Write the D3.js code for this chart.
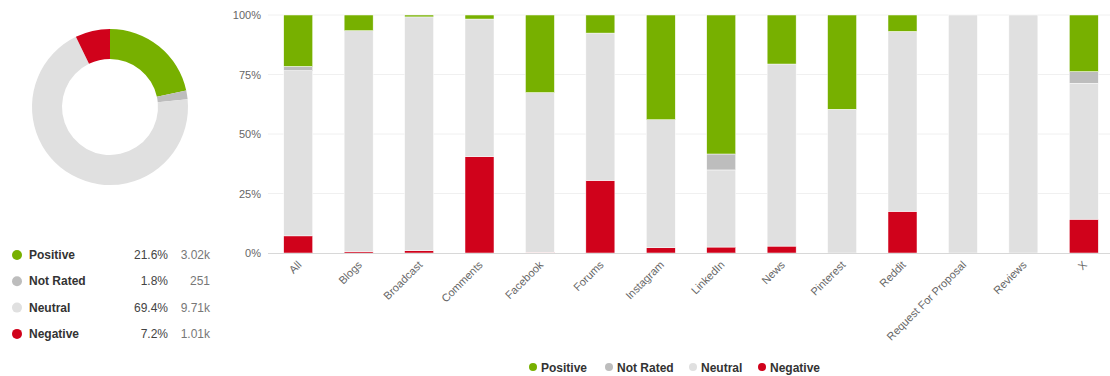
<!DOCTYPE html>
<html>
<head>
<meta charset="utf-8">
<script src="https://cdn.jsdelivr.net/npm/d3@7"></script>
<style>
  body { margin: 0; background: #fff; }
  svg { font-family: "Liberation Sans", Arial, sans-serif; display: block; }
  .tick text { fill: #666; font-size: 11px; }
</style>
</head>
<body>
<svg id="chart" width="1110" height="376"></svg>
<script>
(function () {
    // summary (donut + table)
    var sentiments = ["Positive", "Not Rated", "Neutral", "Negative"];
    var totalPct = [21.6, 1.8, 69.4, 7.2];
    var totalCount = ["3.02k", "251", "9.71k", "1.01k"];
    var colors = ["#77b000", "#bdbdbd", "#e0e0e0", "#d0021b"];

    // per source breakdown (percent of each bar)
    var sources = ["All", "Blogs", "Broadcast", "Comments", "Facebook", "Forums", "Instagram",
        "LinkedIn", "News", "Pinterest", "Reddit", "Request For Proposal", "Reviews", "X"];
    var positive = [21.6, 6.6, 0.8, 1.7, 32.6, 7.6, 44.0, 58.4, 20.6, 39.6, 6.9, 0, 0, 23.8];
    var notRated = [1.8, 0, 0, 0, 0, 0, 0, 6.7, 0, 0, 0, 0, 0, 4.9];
    var neutral = [69.4, 92.8, 98.2, 57.8, 67.1, 61.9, 53.8, 32.4, 76.5, 60.4, 75.6, 100, 100, 57.1];
    var negative = [7.2, 0.6, 1.0, 40.5, 0.3, 30.5, 2.2, 2.5, 2.9, 0, 17.5, 0, 0, 14.2];
    var yTicks = [0, 25, 50, 75, 100];

    var svg = d3.select("#chart");

    // ---- donut
    var pie = d3.pie().sort(null).value(d => d)(totalPct);
    var arc = d3.arc().innerRadius(48).outerRadius(78);
    svg.append("g")
        .attr("transform", "translate(110,107)")
        .selectAll("path")
        .data(pie)
        .join("path")
        .attr("d", arc)
        .attr("fill", (d, i) => colors[i]);

    // ---- table legend
    var rows = svg.append("g").selectAll("g")
        .data(sentiments)
        .join("g")
        .attr("transform", (d, i) => `translate(0,${255 + i * 26.3})`);
    rows.append("circle").attr("cx", 17).attr("cy", 0).attr("r", 5)
        .attr("fill", (d, i) => colors[i]);
    rows.append("text").attr("x", 29).attr("y", 4)
        .style("font-size", "12px").style("font-weight", "bold").attr("fill", "#333")
        .text(d => d);
    rows.append("text").attr("x", 168).attr("y", 4).attr("text-anchor", "end")
        .style("font-size", "12px").attr("fill", "#444")
        .text((d, i) => totalPct[i].toFixed(1) + "%");
    rows.append("text").attr("x", 210).attr("y", 4).attr("text-anchor", "end")
        .style("font-size", "12px").attr("fill", "#777")
        .text((d, i) => totalCount[i]);

    // ---- stacked bars
    var table = sources.map((s, i) => ({
        source: s, "Negative": negative[i], "Neutral": neutral[i],
        "Not Rated": notRated[i], "Positive": positive[i]
    }));
    var stackKeys = ["Negative", "Neutral", "Not Rated", "Positive"];
    var series = d3.stack().keys(stackKeys)(table);

    var x = d3.scaleBand().domain(sources).range([268, 1114])
        .paddingInner(0.52).paddingOuter(0.26);
    var y = d3.scaleLinear().domain([0, 100]).range([253, 15]);

    // gridlines
    svg.append("g")
        .selectAll("line")
        .data(yTicks.slice(1))
        .join("line")
        .attr("x1", 268).attr("x2", 1110)
        .attr("y1", d => y(d)).attr("y2", d => y(d))
        .attr("stroke", "#f0f0f0");

    var yAxis = svg.append("g")
        .attr("transform", "translate(268,0)")
        .call(d3.axisLeft(y).tickValues(yTicks).tickFormat(d => d + "%").tickSize(0).tickPadding(7));
    yAxis.select(".domain").remove();

    svg.append("g")
        .selectAll("g")
        .data(series)
        .join("g")
        .attr("fill", d => colors[sentiments.indexOf(d.key)])
        .selectAll("rect")
        .data(d => d)
        .join("rect")
        .attr("x", d => x(d.data.source))
        .attr("y", d => y(d[1]))
        .attr("width", x.bandwidth())
        .attr("height", d => Math.max(0, y(d[0]) - y(d[1])))
        .attr("stroke", "#fff")
        .attr("stroke-width", 0.5);

    // x axis
    var xAxis = svg.append("g")
        .attr("transform", "translate(0,253.5)")
        .call(d3.axisBottom(x).tickSize(0).tickPadding(0));
    xAxis.select(".domain").attr("stroke", "#d8d8d8").attr("d", "M268,0H1110");
    xAxis.selectAll(".tick text")
        .attr("text-anchor", "end")
        .attr("dy", 0)
        .attr("y", 0)
        .attr("transform", "translate(4,12) rotate(-45)");

    // ---- bottom legend
    var legX = [533, 609, 693, 762];
    var leg = svg.append("g").selectAll("g")
        .data(sentiments)
        .join("g")
        .attr("transform", (d, i) => `translate(${legX[i]},368)`);
    leg.append("circle").attr("r", 4).attr("cy", -1).attr("fill", (d, i) => colors[i]);
    leg.append("text").attr("x", 8).attr("y", 4)
        .style("font-size", "12px").style("font-weight", "bold").attr("fill", "#333")
        .text(d => d);
})();
</script>
</body>
</html>
